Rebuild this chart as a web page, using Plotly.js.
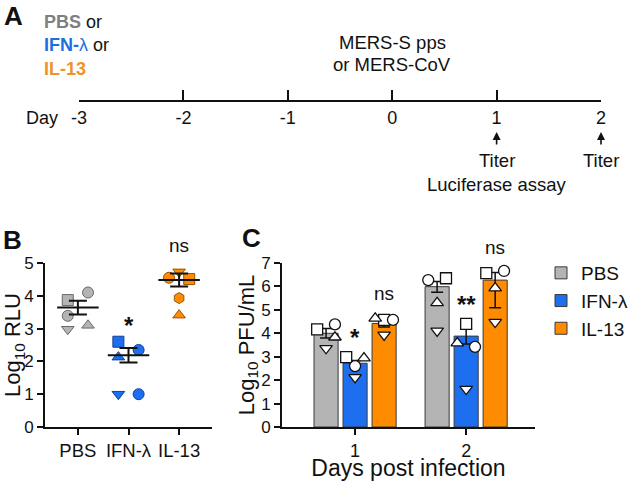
<!DOCTYPE html>
<html>
<head>
<meta charset="utf-8">
<script src="https://cdn.plot.ly/plotly-3.0.1.min.js"></script>
<style>html,body{margin:0;padding:0;background:#fff;}#chart{width:633px;height:481px;}</style>
</head>
<body>
<div id="chart"></div>
<script>
// ---------------- DATA ----------------
// Panel A timeline
const timelineDays = [-3, -2, -1, 0, 1, 2];
const timelineLabels = ['-3', '-2', '-1', '0', '1', '2'];

// Panel B: Log10 RLU per donor (donor order: square, circle, circle2/hexagon, triangle-up, triangle-down)
const bCategories = ['PBS', 'IFN-λ', 'IL-13'];
const bPBS   = [3.87, 4.10, 3.39, 3.10, 2.98];
const bIFN   = [2.60, 2.35, 1.00, 2.13, 1.00];
const bIL13  = [4.51, 4.55, 3.93, 3.41, 4.73];
const bMean  = [3.64, 2.19, 4.48];
const bSEM   = [0.21, 0.22, 0.20];

// Panel C: Log10 PFU/mL, days 1 and 2
const cDays = [1, 2];
const cDayLabels = ['1', '2'];
const cGroups = ['PBS', 'IFN-λ', 'IL-13'];
const cMeanPBS  = [4.00, 5.99];
const cMeanIFN  = [2.72, 3.88];
const cMeanIL13 = [4.42, 6.27];
const cErrUpPBS  = [0.20, 0.22];
const cErrDnPBS  = [0.20, 0.24];
const cErrUpIFN  = [0.12, 0.34];
const cErrDnIFN  = [0.12, 0.34];
const cErrUpIL13 = [0.15, 0.32];
const cErrDnIL13 = [0.15, 1.18];
// donor points (donor order: square, circle, triangle-up, triangle-down), [day1, day2]
const cPtsPBS  = [[4.17, 4.38, 3.83, 3.36], [6.35, 6.27, 5.30, 4.10]];
const cPtsIFN  = [[2.98, 2.60, 2.94, 2.12], [4.40, 3.42, 3.58, 1.62]];
const cPtsIL13 = [[4.57, 4.57, 4.64, 3.93], [6.57, 6.66, 5.93, 4.48]];

// ---------------- STYLE / LAYOUT CONSTANTS ----------------
const W = 633, H = 481;
const px = x => x / W;
const py = y => 1 - y / H;
const FONT = 'Arial, "Liberation Sans", Helvetica, sans-serif';
const GRAY = '#b4b4b4', BLUE = '#1d6ff0', ORANGE = '#ff8c00';
const GRAY_D = '#6a6a6a', BLUE_D = '#123f95', ORANGE_D = '#9a5500';
const TXT_GRAY = '#7f7f7f', TXT_BLUE = '#1d6fe0', TXT_ORANGE = '#f0922b';

// jitter slots (-1 left, 0 centre, 1 right) for each donor point
const bJitter = [[-1, 1, -1, 1, -1], [-1, 1, 1, -1, -1], [1, -1, 0, 0, 0]];
const bSymbols = [
  ['square', 'circle', 'circle', 'triangle-up', 'triangle-down'],
  ['square', 'circle', 'circle', 'triangle-up', 'triangle-down'],
  ['square', 'circle', 'hexagon', 'triangle-up', 'triangle-down']
];
const cSymbols = ['square', 'circle', 'triangle-up', 'triangle-down'];
const cJitter = [
  [[-1, 1, 1, 0], [1, -1, 0, 0]],
  [[-1, 0, 1, 0], [0, 1, -1, 0]],
  [[0, 1, -1, 0], [-1, 1, 0, 0]]
];
const BARGAP = 0.216, BARGROUPGAP = 0.17;

const traces = [];

// ---- Panel A invisible anchor trace for timeline axis
traces.push({
  type: 'scatter', x: timelineDays, y: timelineDays.map(() => 0.5),
  xaxis: 'x3', yaxis: 'y3', mode: 'markers',
  marker: {opacity: 0, size: 1}, hoverinfo: 'skip', showlegend: false
});

// ---- Panel B points
const bData = [bPBS, bIFN, bIL13];
const bFill = [GRAY, BLUE, ORANGE];
const bLine = [GRAY_D, BLUE_D, ORANGE_D];
bData.forEach((vals, g) => {
  traces.push({
    type: 'scatter', mode: 'markers', xaxis: 'x', yaxis: 'y',
    x: vals.map((v, i) => g + bJitter[g][i] * 0.20),
    y: vals,
    marker: {symbol: bSymbols[g], size: 11, color: bFill[g], line: {color: bLine[g], width: 1}},
    showlegend: false, hoverinfo: 'skip', cliponaxis: false
  });
});
// mean lines
const mlx = [], mly = [];
bMean.forEach((m, g) => { mlx.push(g - 0.41, g + 0.41, null); mly.push(m, m, null); });
traces.push({
  type: 'scatter', mode: 'lines', x: mlx, y: mly, xaxis: 'x', yaxis: 'y',
  line: {color: '#111', width: 2}, showlegend: false, hoverinfo: 'skip'
});
// SEM
traces.push({
  type: 'scatter', mode: 'markers', x: [0, 1, 2], y: bMean, xaxis: 'x', yaxis: 'y',
  marker: {size: 1, color: 'rgba(0,0,0,0)'},
  error_y: {type: 'data', array: bSEM, visible: true, color: '#111', thickness: 2, width: 9},
  showlegend: false, hoverinfo: 'skip'
});

// ---- Panel C bars
const cMeans = [cMeanPBS, cMeanIFN, cMeanIL13];
const cUp = [cErrUpPBS, cErrUpIFN, cErrUpIL13];
const cDn = [cErrDnPBS, cErrDnIFN, cErrDnIL13];
const cPts = [cPtsPBS, cPtsIFN, cPtsIL13];
cGroups.forEach((name, g) => {
  traces.push({
    type: 'bar', name: name, x: cDays, y: cMeans[g], xaxis: 'x2', yaxis: 'y2',
    marker: {color: bFill[g], line: {color: '#3a3a3a', width: 1}},
    error_y: {type: 'data', symmetric: false, array: cUp[g], arrayminus: cDn[g],
              visible: true, color: '#111', thickness: 1.5, width: 6},
    hoverinfo: 'skip'
  });
});
// ---- Panel C donor points
const slot = (1 - BARGAP) / 3;
cGroups.forEach((name, g) => {
  cDays.forEach((d, di) => {
    const vals = cPts[g][di];
    traces.push({
      type: 'scatter', mode: 'markers', xaxis: 'x2', yaxis: 'y2',
      x: vals.map((v, i) => d + (g - 1) * slot + cJitter[g][di][i] * 0.08),
      y: vals,
      marker: {symbol: cSymbols, size: 11, color: '#ffffff', line: {color: '#111', width: 1.3}},
      showlegend: false, hoverinfo: 'skip', cliponaxis: false
    });
  });
});

// ---------------- LAYOUT ----------------
const axFont = {family: FONT, size: 17, color: '#111'};
const annFont = (s, c) => ({family: FONT, size: s, color: c || '#111'});
const A = (o) => Object.assign({xanchor: 'center', yanchor: 'middle', xref: 'paper', yref: 'paper', showarrow: false}, o);

const ann = [];
// panel letters
ann.push(A({text: '<b>A</b>', x: px(13), y: py(16), font: annFont(26)}));
ann.push(A({text: '<b>B</b>', x: px(12), y: py(240), font: annFont(26)}));
ann.push(A({text: '<b>C</b>', x: px(251), y: py(238), font: annFont(26)}));
// treatment text (panel A)
ann.push(A({text: '<span style="color:' + TXT_GRAY + '"><b>PBS</b></span> or', x: px(42), y: py(22), xanchor: 'left', font: annFont(18)}));
ann.push(A({text: '<span style="color:' + TXT_BLUE + '"><b>IFN-</b>λ</span> or', x: px(42), y: py(45), xanchor: 'left', font: annFont(18)}));
ann.push(A({text: '<span style="color:' + TXT_ORANGE + '"><b>IL-13</b></span>', x: px(42), y: py(69), xanchor: 'left', font: annFont(18)}));
ann.push(A({text: 'MERS-S pps', x: 0, y: py(42), xref: 'x3', font: annFont(18.5)}));
ann.push(A({text: 'or MERS-CoV', x: 0, y: py(65), xref: 'x3', font: annFont(18.5)}));
ann.push(A({text: 'Day', x: px(42), y: py(118), font: annFont(18)}));
[1, 2].forEach(d => {
  ann.push(A({text: '', x: d, y: py(132), xref: 'x3', showarrow: true, ax: 0, ay: 14,
            arrowhead: 2, arrowsize: 1, arrowwidth: 1.6, arrowcolor: '#111'}));
  ann.push(A({text: 'Titer', x: d, y: py(160), xref: 'x3', font: annFont(18.5)}));
});
ann.push(A({text: 'Luciferase assay', x: 1, y: py(184), xref: 'x3', font: annFont(18.5)}));
// significance marks
ann.push(A({text: '<b>*</b>', x: 1, y: py(325), xref: 'x', font: annFont(24)}));
ann.push(A({text: 'ns', x: 2, y: py(245), xref: 'x', font: annFont(19)}));
ann.push(A({text: '<b>*</b>', x: 1, y: py(337), xref: 'x2', font: annFont(24)}));
ann.push(A({text: 'ns', x: 1 + slot, y: py(293), xref: 'x2', font: annFont(19)}));
ann.push(A({text: '<b>**</b>', x: 2, y: py(304), xref: 'x2', font: annFont(24)}));
ann.push(A({text: 'ns', x: 2 + slot, y: py(247), xref: 'x2', font: annFont(19)}));

const commonY = {
  showgrid: false, zeroline: false, showline: true, linecolor: '#111', linewidth: 2,
  ticks: 'outside', ticklen: 6, tickwidth: 2, tickcolor: '#111', tickfont: axFont
};

const layout = {
  width: W, height: H,
  margin: {l: 0, r: 0, t: 0, b: 0},
  paper_bgcolor: '#fff', plot_bgcolor: 'rgba(0,0,0,0)',
  font: {family: FONT, color: '#111'},
  barmode: 'group', bargap: BARGAP, bargroupgap: BARGROUPGAP,
  showlegend: true,
  legend: {x: px(541), y: py(254), xanchor: 'left', yanchor: 'top', font: {family: FONT, size: 19, color: '#111'},
           bgcolor: 'rgba(0,0,0,0)', tracegroupgap: 2},
  // Panel A timeline
  xaxis3: {domain: [px(79), px(601)], range: [-3, 2], anchor: 'y3', tickvals: timelineDays, ticktext: timelineLabels,
           ticks: 'inside', ticklen: 10, tickwidth: 2, tickcolor: '#111', showline: true, linewidth: 2, linecolor: '#111',
           showgrid: false, zeroline: false, tickfont: {family: FONT, size: 18, color: '#111'}},
  yaxis3: {domain: [py(100), py(80)], range: [0, 1], anchor: 'x3', visible: false},
  // Panel B
  xaxis: {domain: [px(45), px(212)], range: [-0.65, 2.65], anchor: 'y', tickvals: [0, 1, 2], ticktext: bCategories,
          showgrid: false, zeroline: false, showline: true, linecolor: '#111', linewidth: 2,
          ticks: 'outside', ticklen: 6, tickwidth: 2, tickcolor: '#111', tickfont: {family: FONT, size: 18.5, color: '#111'}},
  yaxis: Object.assign({}, commonY, {domain: [py(427), py(263)], anchor: 'x', range: [0, 5], dtick: 1,
          title: {text: 'Log<sub>10</sub> RLU', font: {family: FONT, size: 22, color: '#111'}, standoff: 6}}),
  // Panel C
  xaxis2: {domain: [px(282), px(535)], range: [0.342, 2.62], anchor: 'y2', tickvals: cDays, ticktext: cDayLabels,
           showgrid: false, zeroline: false, showline: true, linecolor: '#111', linewidth: 2,
           ticks: 'outside', ticklen: 6, tickwidth: 2, tickcolor: '#111', tickfont: {family: FONT, size: 18, color: '#111'},
           title: {text: 'Days post infection', font: {family: FONT, size: 23, color: '#111'}, standoff: 7}},
  yaxis2: Object.assign({}, commonY, {domain: [py(427), py(263)], anchor: 'x2', range: [0, 7], dtick: 1,
           title: {text: 'Log<sub>10</sub> PFU/mL', font: {family: FONT, size: 22, color: '#111'}, standoff: 0}}),
  annotations: ann
};

Plotly.newPlot('chart', traces, layout, {staticPlot: true, displayModeBar: false});
</script>
</body>
</html>
